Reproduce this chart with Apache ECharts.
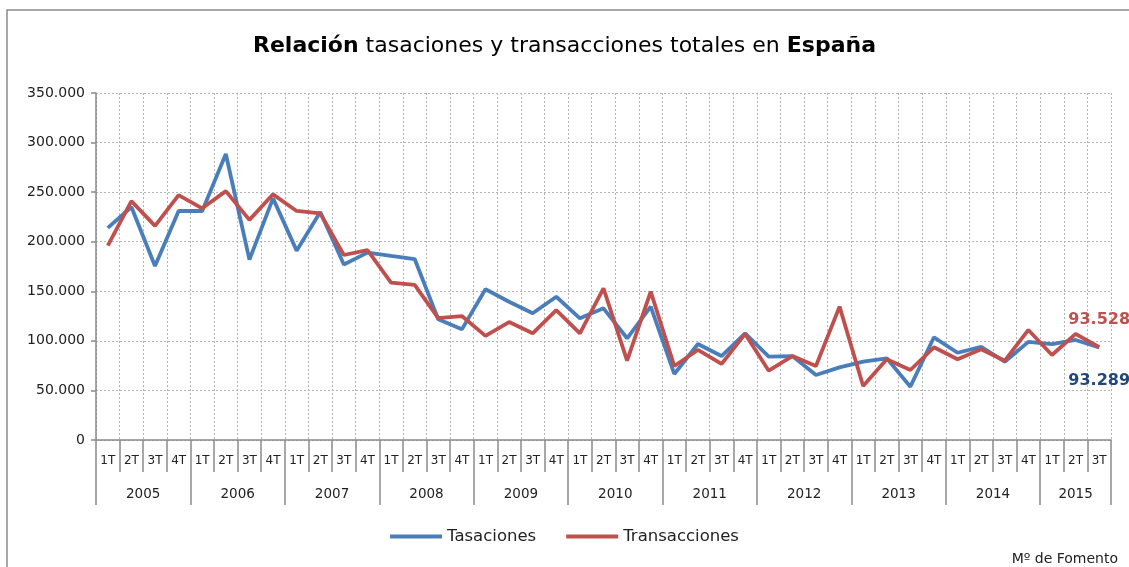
<!DOCTYPE html>
<html>
<head>
<meta charset="utf-8">
<script src="https://cdn.jsdelivr.net/npm/echarts@6/dist/echarts.min.js"></script>
<style>
	html, body { margin: 0; padding: 0; background: #fff; }
	#chart { width: 1129px; height: 567px; }
</style>
</head>
<body>
<div id="chart"></div>
<script>
var FONT = 'DejaVu Sans';

// datos trimestrales 2005 1T .. 2015 3T
var quarters = ['1T', '2T', '3T', '4T'];
var years = ['2005', '2006', '2007', '2008', '2009', '2010', '2011', '2012', '2013', '2014', '2015'];
var tasaciones = [214000, 235000, 175500, 231000, 231000, 288500, 182000, 243700, 191000, 230000, 177000, 189000,
	185600, 182500, 121700, 111600, 152000, 139500, 127800, 144500, 122700, 132800, 102600, 134500,
	66600, 96800, 84700, 107600, 84000, 84700, 65600, 73300, 79000, 82400, 53800, 103600,
	88000, 94000, 79000, 99000, 96800, 100900, 93289];
var transacciones = [196000, 241000, 216000, 247000, 233700, 251000, 222000, 247800, 231000, 228600, 186600, 191600,
	158700, 156500, 123000, 125000, 105000, 119000, 107600, 131000, 107600, 153000, 80000, 149600,
	74600, 90800, 76700, 107000, 69900, 84700, 74600, 134500, 54500, 81400, 70600, 93500,
	81400, 91500, 80000, 111000, 85700, 107000, 93528];
var yTicks = [0, 50000, 100000, 150000, 200000, 250000, 300000, 350000];

// eje de trimestres
var qLabels = [];
for (var i = 0; i < tasaciones.length; i++) {
	qLabels.push(quarters[i % 4]);
}
// eje de años: medio trimestre por posicion, sin boundaryGap
var nHalf = qLabels.length * 2 + 1;
var yearHalf = [];
for (var j = 0; j < nHalf; j++) yearHalf.push('');
var yearTickIdx = {};
for (var k = 0; k < years.length; k++) {
	var start = k * 8;
	var end = Math.min(start + 8, nHalf - 1);
	yearHalf[Math.round((start + end) / 2)] = years[k];
	yearTickIdx[start] = true;
	yearTickIdx[end] = true;
}

function fmt(v) {
	return String(v).replace(/\B(?=(\d{3})+(?!\d))/g, '.');
}

// etiqueta del ultimo valor
function endMark(arr, color, pos, dist) {
	var last = arr.length - 1;
	return {
		symbol: 'circle',
		symbolSize: 0,
		silent: true,
		label: {
			show: true, position: pos, distance: dist,
			formatter: function(p) { return fmt(p.value); },
			color: color, fontFamily: FONT, fontWeight: 'bold', fontSize: 16
		},
		data: [{ coord: [last, arr[last]], value: arr[last] }]
	};
}

var gridLine = { color: '#b4b4b4', type: [2, 2], width: 1 };
var axisGray = { color: '#8a8a8a', width: 1.5 };

var chart = echarts.init(document.getElementById('chart'));
chart.setOption({
	animation: false,
	backgroundColor: '#fff',
	title: {
		text: '{b|Relación} tasaciones y transacciones totales en {b|España}',
		left: 'center',
		top: 30,
		textStyle: {
			fontFamily: FONT, fontSize: 22, fontWeight: 'normal', color: '#000',
			rich: { b: { fontFamily: FONT, fontSize: 22, fontWeight: 'bold', color: '#000' } }
		}
	},
	legend: {
		bottom: 17,
		left: 'center',
		icon: 'rect',
		itemWidth: 52,
		itemHeight: 4,
		itemGap: 30,
		textStyle: { fontFamily: FONT, fontSize: 16.5, color: '#222' },
		data: ['Tasaciones', 'Transacciones']
	},
	graphic: [
		{ type: 'rect', shape: { x: 7, y: 10, width: 1200, height: 700 }, style: { fill: 'none', stroke: '#8a8a8a', lineWidth: 1.5 }, z: -10 },
		{ type: 'text', right: 11, bottom: 1, style: { text: 'Mº de Fomento', fontFamily: FONT, fontSize: 14, fill: '#222' } }
	],
	grid: { left: 96, right: 18, top: 93, bottom: 127 },
	xAxis: [
		{
			type: 'category',
			data: qLabels,
			boundaryGap: true,
			axisLine: { show: true, lineStyle: axisGray },
			axisTick: { show: true, length: 32, interval: 0, lineStyle: axisGray },
			axisLabel: { interval: 0, margin: 15, fontFamily: FONT, fontSize: 12, color: '#222' },
			splitLine: { show: true, interval: 0, lineStyle: gridLine }
		},
		{
			type: 'category',
			data: yearHalf,
			boundaryGap: false,
			position: 'bottom',
			offset: 32,
			axisLine: { show: false },
			axisTick: {
				show: true, length: 33,
				interval: function(idx) { return !!yearTickIdx[idx]; },
				lineStyle: axisGray
			},
			axisLabel: {
				interval: function(idx, val) { return val !== ''; },
				margin: 15, fontFamily: FONT, fontSize: 13.5, color: '#222'
			},
			splitLine: { show: false }
		}
	],
	yAxis: {
		type: 'value',
		min: 0,
		max: yTicks[yTicks.length - 1],
		interval: yTicks[1] - yTicks[0],
		axisLine: { show: true, lineStyle: axisGray },
		axisTick: { show: true, length: 5, lineStyle: axisGray },
		axisLabel: { margin: 11, fontFamily: FONT, fontSize: 14, color: '#222', formatter: fmt },
		splitLine: { show: true, lineStyle: gridLine }
	},
	series: [
		{
			name: 'Tasaciones',
			type: 'line',
			xAxisIndex: 0,
			data: tasaciones,
			symbol: 'none',
			color: '#4A7EBB',
			lineStyle: { width: 3.8, color: '#4A7EBB' },
			markPoint: endMark(tasaciones, '#1F497D', 'bottom', 25)
		},
		{
			name: 'Transacciones',
			type: 'line',
			xAxisIndex: 0,
			data: transacciones,
			symbol: 'none',
			color: '#C0504D',
			lineStyle: { width: 3.8, color: '#C0504D' },
			markPoint: endMark(transacciones, '#C0504D', 'top', 19)
		}
	]
});
</script>
</body>
</html>
